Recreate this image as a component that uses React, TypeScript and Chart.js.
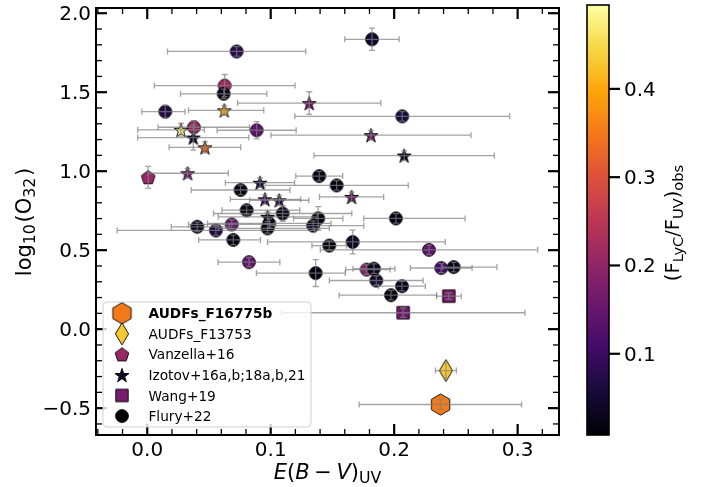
import React, { useEffect, useRef } from 'react';
import { Chart, registerables } from 'chart.js';

Chart.register(...registerables);

const W = 717;
const H = 487;

// ---------------- data ----------------
// Flury+22
const fluryEBV = [0.0724, 0.182, 0.0627, 0.0619, 0.0146, 0.0378, 0.0886, 0.2065, 0.0756, 0.1393, 0.1534, 0.0805, 0.1097, 0.1385, 0.2014, 0.1344, 0.0405, 0.0556, 0.0684, 0.0975, 0.0988, 0.0697, 0.1474, 0.1664, 0.2282, 0.0824, 0.1364, 0.1777, 0.1836, 0.2381, 0.2482, 0.1855, 0.2063, 0.1974];
const fluryO32 = [1.758, 1.835, 1.542, 1.49, 1.377, 1.278, 1.259, 1.347, 0.881, 0.969, 0.91, 0.753, 0.732, 0.701, 0.701, 0.655, 0.648, 0.625, 0.663, 0.638, 0.669, 0.565, 0.529, 0.552, 0.502, 0.424, 0.355, 0.377, 0.383, 0.387, 0.393, 0.308, 0.272, 0.215];
const fluryXErrLo = [0.056, 0.022, 0.057, 0.035, 0.019, 0.029, 0.032, 0.087, 0.04, 0.019, 0.058, 0.02, 0.056, 0.02, 0.026, 0.035, 0.021, 0.08, 0.035, 0.04, 0.05, 0.028, 0.014, 0.069, 0.088, 0.025, 0.048, 0.017, 0.017, 0.025, 0.009, 0.038, 0.019, 0.042];
const fluryXErrHi = [0.056, 0.022, 0.057, 0.035, 0.016, 0.045, 0.032, 0.087, 0.04, 0.019, 0.058, 0.043, 0.056, 0.02, 0.056, 0.041, 0.026, 0.08, 0.035, 0.05, 0.05, 0.022, 0.014, 0.075, 0.088, 0.025, 0.024, 0.019, 0.017, 0.025, 0.035, 0.038, 0.019, 0.037];
const fluryYErr = [0.03, 0.07, 0.07, 0.03, 0.04, 0.04, 0.055, 0.03, 0.03, 0.03, 0.03, 0.03, 0.05, 0.075, 0.03, 0.03, 0.03, 0.03, 0.03, 0.03, 0.03, 0.03, 0.03, 0.075, 0.03, 0.03, 0.085, 0.03, 0.03, 0.03, 0.03, 0.03, 0.03, 0.03];
const fluryFesc = [0.08, 0.05, 0.22, 0.03, 0.07, 0.21, 0.14, 0.06, 0.02, 0.02, 0.02, 0.02, 0.02, 0.02, 0.02, 0.03, 0.03, 0.07, 0.15, 0.03, 0.03, 0.02, 0.02, 0.04, 0.14, 0.15, 0.02, 0.19, 0.03, 0.11, 0.03, 0.05, 0.03, 0.02];

// Izotov+16a,b;18a,b,21
const izoEBV = [0.1312, 0.0624, 0.0273, 0.0373, 0.0467, 0.1812, 0.2081, 0.0327, 0.0913, 0.0953, 0.1069, 0.1655, 0.0975];
const izoO32 = [1.431, 1.385, 1.262, 1.213, 1.151, 1.228, 1.099, 0.987, 0.927, 0.822, 0.816, 0.837, 0.711];
const izoXErrLo = [0.058, 0.029, 0.035, 0.045, 0.029, 0.081, 0.073, 0.032, 0.028, 0.028, 0.024, 0.026, 0.04];
const izoXErrHi = [0.058, 0.032, 0.019, 0.045, 0.029, 0.081, 0.073, 0.033, 0.028, 0.029, 0.024, 0.026, 0.04];
const izoYErr = [0.072, 0.03, 0.04, 0.08, 0.035, 0.03, 0.03, 0.03, 0.03, 0.03, 0.03, 0.03, 0.03];
const izoFesc = [0.17, 0.41, 0.48, 0.05, 0.33, 0.16, 0.03, 0.17, 0.07, 0.1, 0.08, 0.15, 0.04];

// Vanzella+16
const vanEBV = [0.0008];
const vanO32 = [0.962];
const vanXErrLo = [0];
const vanXErrHi = [0];
const vanYErr = [0.069];
const vanFesc = [0.21];

// Wang+19
const wangEBV = [0.2443, 0.2073];
const wangO32 = [0.209, 0.104];
const wangXErrLo = [0.01, 0.0985];
const wangXErrHi = [0.01, 0.0986];
const wangYErr = [0.02, 0.03];
const wangFesc = [0.17, 0.16];

// AUDFs_F13753
const f13753EBV = [0.2419];
const f13753O32 = [-0.262];
const f13753XErr = [0.0085];
const f13753YErr = [0.05];
const f13753Fesc = [0.432];

// AUDFs_F16775b
const f16775EBV = [0.2376];
const f16775O32 = [-0.477];
const f16775XErrLo = [0.066];
const f16775XErrHi = [0.0656];
const f16775YErr = [0.03];
const f16775Fesc = [0.35];

const legendLabels = ['AUDFs_F16775b', 'AUDFs_F13753', 'Vanzella+16', 'Izotov+16a,b;18a,b,21', 'Wang+19', 'Flury+22'];
const legendShapes = ['hexagon', 'thinDiamond', 'pentagon', 'star', 'square', 'circle'];
const legendFesc = [0.35, 0.432, 0.21, 0.04, 0.17, 0.008];

const xMajorTicks = [0, 0.1, 0.2, 0.3];
const yMajorTicks = [-0.5, 0, 0.5, 1, 1.5, 2];
const cbTicks = [0.1, 0.2, 0.3, 0.4];

const X_MIN = -0.0415;
const X_MAX = 0.3335;
const Y_MIN = -0.67;
const Y_MAX = 2.033;
const CB_MIN = 0.008;
const CB_MAX = 0.495;

// ---------------- colormap ----------------
const INFERNO = ['#000004', '#160b39', '#420a68', '#6a176e', '#932667', '#bc3754', '#dd513a', '#f37819', '#fca50a', '#f6d746', '#fcffa4'];
function hexToRgb(h: string) {
  return [parseInt(h.slice(1, 3), 16), parseInt(h.slice(3, 5), 16), parseInt(h.slice(5, 7), 16)];
}
function infernoAt(t: number) {
  t = Math.max(0, Math.min(1, t));
  const p = t * (INFERNO.length - 1);
  const i = Math.min(INFERNO.length - 2, Math.floor(p));
  const f = p - i;
  const a = hexToRgb(INFERNO[i]);
  const b = hexToRgb(INFERNO[i + 1]);
  const c = a.map((v, k) => Math.round(v + (b[k] - v) * f));
  return `rgb(${c[0]},${c[1]},${c[2]})`;
}
function colorFor(v: number) {
  return infernoAt((v - CB_MIN) / (CB_MAX - CB_MIN));
}

// ---------------- markers ----------------
function makeMarker(shape: string, fill: string): HTMLCanvasElement {
  const ext: Record<string, number> = { circle: 7, star: 8, pentagon: 8, square: 7, hexagon: 11.5, thinDiamond: 12 };
  const e = ext[shape] || 8;
  const s = Math.ceil(e * 2 + 4);
  const c = document.createElement('canvas');
  c.width = s;
  c.height = s;
  const g = c.getContext('2d')!;
  g.translate(s / 2, s / 2);
  g.beginPath();
  if (shape === 'circle') {
    g.arc(0, 0, 6.4, 0, Math.PI * 2);
  } else if (shape === 'star') {
    const R = 7.4, r = R * 0.382;
    for (let k = 0; k < 10; k++) {
      const rad = k % 2 === 0 ? R : r;
      const a = -Math.PI / 2 + (k * Math.PI) / 5;
      const px = rad * Math.cos(a), py = rad * Math.sin(a) + 0.8;
      if (k === 0) g.moveTo(px, py); else g.lineTo(px, py);
    }
    g.closePath();
  } else if (shape === 'pentagon') {
    const R = 7.2;
    for (let k = 0; k < 5; k++) {
      const a = -Math.PI / 2 + (k * 2 * Math.PI) / 5;
      const px = R * Math.cos(a), py = R * Math.sin(a) + 0.6;
      if (k === 0) g.moveTo(px, py); else g.lineTo(px, py);
    }
    g.closePath();
  } else if (shape === 'square') {
    g.rect(-6.2, -6.2, 12.4, 12.4);
  } else if (shape === 'hexagon') {
    const R = 10.6;
    for (let k = 0; k < 6; k++) {
      const a = -Math.PI / 2 + (k * Math.PI) / 3;
      const px = R * Math.cos(a), py = R * Math.sin(a);
      if (k === 0) g.moveTo(px, py); else g.lineTo(px, py);
    }
    g.closePath();
  } else if (shape === 'thinDiamond') {
    g.moveTo(0, -11);
    g.lineTo(6.6, 0);
    g.lineTo(0, 11);
    g.lineTo(-6.6, 0);
    g.closePath();
  }
  g.fillStyle = fill;
  g.fill();
  g.lineWidth = 0.9;
  g.strokeStyle = '#000';
  g.stroke();
  return c;
}

// ---------------- rich text ----------------
type Seg = { t: string; sub?: boolean; it?: boolean; padL?: number; padR?: number };
const FONT = '"DejaVu Sans", sans-serif';
const SUB_SCALE = 0.75;
function segFont(s: Seg, size: number) {
  const sz = s.sub ? size * SUB_SCALE : size;
  return `${s.it ? 'italic ' : ''}${sz}px ${FONT}`;
}
function richWidth(ctx: CanvasRenderingContext2D, segs: Seg[], size: number) {
  let w = 0;
  for (const s of segs) {
    ctx.font = segFont(s, size);
    w += ctx.measureText(s.t).width + ((s.padL || 0) + (s.padR || 0)) * size;
  }
  return w;
}
function drawRich(ctx: CanvasRenderingContext2D, segs: Seg[], cx: number, baseY: number, size: number) {
  const w = richWidth(ctx, segs, size);
  let x = cx - w / 2;
  ctx.textAlign = 'left';
  ctx.textBaseline = 'alphabetic';
  for (const s of segs) {
    ctx.font = segFont(s, size);
    x += (s.padL || 0) * size;
    ctx.fillText(s.t, x, baseY + (s.sub ? size * 0.2 : 0));
    x += ctx.measureText(s.t).width + (s.padR || 0) * size;
  }
}
function fmt(v: number) {
  const s = v.toFixed(1);
  return v < 0 ? '\u2212' + s.slice(1) : s;
}

// ---------------- plugins ----------------
const errorBarPlugin = {
  id: 'errorBars',
  afterDatasetsDraw(chart: any) {
    const { ctx, chartArea, scales } = chart;
    const xs = scales.x, ys = scales.y;
    ctx.save();
    ctx.beginPath();
    ctx.rect(chartArea.left, chartArea.top, chartArea.right - chartArea.left, chartArea.bottom - chartArea.top);
    ctx.clip();
    ctx.strokeStyle = 'rgba(128,128,128,0.72)';
    ctx.lineWidth = 1.3;
    const cap = 3;
    chart.data.datasets.forEach((ds: any) => {
      const e = ds.err;
      ds.data.forEach((p: any, i: number) => {
        const px = xs.getPixelForValue(p.x);
        const py = ys.getPixelForValue(p.y);
        ctx.beginPath();
        if (e.xlo[i] > 0 || e.xhi[i] > 0) {
          const x0 = xs.getPixelForValue(p.x - e.xlo[i]);
          const x1 = xs.getPixelForValue(p.x + e.xhi[i]);
          ctx.moveTo(x0, py); ctx.lineTo(x1, py);
          ctx.moveTo(x0, py - cap); ctx.lineTo(x0, py + cap);
          ctx.moveTo(x1, py - cap); ctx.lineTo(x1, py + cap);
        }
        if (e.y[i] > 0) {
          const y0 = ys.getPixelForValue(p.y - e.y[i]);
          const y1 = ys.getPixelForValue(p.y + e.y[i]);
          ctx.moveTo(px, y0); ctx.lineTo(px, y1);
          ctx.moveTo(px - cap, y0); ctx.lineTo(px + cap, y0);
          ctx.moveTo(px - cap, y1); ctx.lineTo(px + cap, y1);
        }
        ctx.stroke();
      });
    });
    ctx.restore();
  },
};

const decorPlugin = {
  id: 'decor',
  afterDraw(chart: any) {
    const { ctx, chartArea, scales } = chart;
    const xs = scales.x, ys = scales.y;
    const { left, right, top, bottom } = chartArea;
    ctx.save();
    ctx.fillStyle = '#000';
    ctx.strokeStyle = '#000';

    const tick = (x0: number, y0: number, x1: number, y1: number, lw: number) => {
      ctx.lineWidth = lw;
      ctx.beginPath();
      ctx.moveTo(x0, y0);
      ctx.lineTo(x1, y1);
      ctx.stroke();
    };
    const MAJ = 11, MIN = 6;
    for (let k = Math.ceil(X_MIN / 0.02); k * 0.02 <= X_MAX; k++) {
      const v = k * 0.02;
      const isMaj = k % 5 === 0;
      const px = xs.getPixelForValue(v);
      const L = isMaj ? MAJ : MIN;
      const lw = isMaj ? 2.2 : 1.3;
      tick(px, bottom, px, bottom - L, lw);
      tick(px, top, px, top + L, lw);
    }
    for (let k = Math.ceil(Y_MIN / 0.1); k * 0.1 <= Y_MAX + 1e-9; k++) {
      const v = k * 0.1;
      const isMaj = k % 5 === 0;
      const py = ys.getPixelForValue(v);
      const L = isMaj ? MAJ : MIN;
      const lw = isMaj ? 2.2 : 1.3;
      tick(left, py, left + L, py, lw);
      tick(right, py, right - L, py, lw);
    }

    ctx.lineWidth = 2;
    ctx.strokeRect(left, top, right - left, bottom - top);

    ctx.font = `20px ${FONT}`;
    ctx.textAlign = 'center';
    ctx.textBaseline = 'alphabetic';
    xMajorTicks.forEach((v) => ctx.fillText(fmt(v), xs.getPixelForValue(v), 456));
    ctx.textAlign = 'right';
    yMajorTicks.forEach((v) => ctx.fillText(fmt(v), 91, ys.getPixelForValue(v) + 7));

    drawRich(ctx, [
      { t: 'E', it: true }, { t: '(' }, { t: 'B', it: true }, { t: '\u2212', padL: 0.22, padR: 0.22 }, { t: 'V', it: true }, { t: ')' }, { t: 'UV', sub: true },
    ], (left + right) / 2, 479, 21);
    ctx.save();
    ctx.translate(31, 222);
    ctx.rotate(-Math.PI / 2);
    drawRich(ctx, [{ t: 'log' }, { t: '10', sub: true, padR: 0.08 }, { t: '(O' }, { t: '32', sub: true, padR: 0.08 }, { t: ')' }], 0, 0, 21);
    ctx.restore();

    // colorbar
    const cbL = 587, cbR = 609, cbT = 5, cbB = 435;
    const cbPix = (v: number) => cbB - ((v - CB_MIN) / (CB_MAX - CB_MIN)) * (cbB - cbT);
    const grad = ctx.createLinearGradient(0, cbB, 0, cbT);
    for (let k = 0; k <= 40; k++) grad.addColorStop(k / 40, infernoAt(k / 40));
    ctx.fillStyle = grad;
    ctx.fillRect(cbL, cbT, cbR - cbL, cbB - cbT);
    ctx.lineWidth = 1.6;
    ctx.strokeStyle = '#000';
    ctx.strokeRect(cbL, cbT, cbR - cbL, cbB - cbT);
    ctx.fillStyle = '#000';
    cbTicks.forEach((v) => {
      const py = cbPix(v);
      tick(cbR, py, cbR + 11, py, 2.2);
      ctx.font = `20px ${FONT}`;
      ctx.textAlign = 'left';
      ctx.fillText(fmt(v), 624, py + 7);
    });
    ctx.save();
    ctx.translate(679, 223);
    ctx.rotate(-Math.PI / 2);
    drawRich(ctx, [{ t: '(F' }, { t: 'LyC', sub: true }, { t: '/F' }, { t: 'UV', sub: true }, { t: ')' }, { t: 'obs', sub: true }], 0, 0, 19.5);
    ctx.restore();

    // legend
    const lgL = 103, lgT = 302, lgW = 208, lgH = 125, r = 4;
    ctx.beginPath();
    ctx.moveTo(lgL + r, lgT);
    ctx.lineTo(lgL + lgW - r, lgT);
    ctx.quadraticCurveTo(lgL + lgW, lgT, lgL + lgW, lgT + r);
    ctx.lineTo(lgL + lgW, lgT + lgH - r);
    ctx.quadraticCurveTo(lgL + lgW, lgT + lgH, lgL + lgW - r, lgT + lgH);
    ctx.lineTo(lgL + r, lgT + lgH);
    ctx.quadraticCurveTo(lgL, lgT + lgH, lgL, lgT + lgH - r);
    ctx.lineTo(lgL, lgT + r);
    ctx.quadraticCurveTo(lgL, lgT, lgL + r, lgT);
    ctx.closePath();
    ctx.fillStyle = 'rgba(255,255,255,0.8)';
    ctx.fill();
    ctx.lineWidth = 1;
    ctx.strokeStyle = '#d0d0d0';
    ctx.stroke();
    legendLabels.forEach((lab, i) => {
      const cy = 313.3 + i * 20.55;
      const img = makeMarker(legendShapes[i], colorFor(legendFesc[i]));
      ctx.drawImage(img, 122 - img.width / 2, cy - img.height / 2);
      ctx.fillStyle = '#000';
      ctx.font = `${i === 0 ? 'bold ' : ''}13.7px ${FONT}`;
      ctx.textAlign = 'left';
      ctx.fillText(lab, 148.5, cy + 5);
    });

    ctx.restore();
  },
};

// ---------------- datasets ----------------
function build(label: string, shape: string, xsArr: number[], ysArr: number[], xlo: number[], xhi: number[], ye: number[], fesc: number[]) {
  return {
    label,
    data: xsArr.map((x, i) => ({ x, y: ysArr[i] })),
    pointStyle: fesc.map((f) => makeMarker(shape, colorFor(f))),
    pointRadius: 7,
    err: { xlo, xhi, y: ye },
  };
}

export default function App() {
  const ref = useRef<HTMLCanvasElement>(null);
  useEffect(() => {
    document.body.style.margin = '0';
    const datasets: any[] = [
      build('AUDFs_F16775b', 'hexagon', f16775EBV, f16775O32, f16775XErrLo, f16775XErrHi, f16775YErr, f16775Fesc),
      build('AUDFs_F13753', 'thinDiamond', f13753EBV, f13753O32, f13753XErr, f13753XErr, f13753YErr, f13753Fesc),
      build('Vanzella+16', 'pentagon', vanEBV, vanO32, vanXErrLo, vanXErrHi, vanYErr, vanFesc),
      build('Izotov+16a,b;18a,b,21', 'star', izoEBV, izoO32, izoXErrLo, izoXErrHi, izoYErr, izoFesc),
      build('Wang+19', 'square', wangEBV, wangO32, wangXErrLo, wangXErrHi, wangYErr, wangFesc),
      build('Flury+22', 'circle', fluryEBV, fluryO32, fluryXErrLo, fluryXErrHi, fluryYErr, fluryFesc),
    ];
    const chart = new Chart(ref.current!, {
      type: 'scatter',
      data: { datasets },
      options: {
        responsive: false,
        animation: false,
        devicePixelRatio: 1,
        events: [],
        layout: { padding: { left: 96, right: W - 559, top: 4, bottom: H - 435 } },
        scales: {
          x: { type: 'linear', min: X_MIN, max: X_MAX, display: false },
          y: { type: 'linear', min: Y_MIN, max: Y_MAX, display: false },
        },
        plugins: { legend: { display: false }, tooltip: { enabled: false } },
      },
      plugins: [errorBarPlugin, decorPlugin],
    } as any);
    return () => chart.destroy();
  }, []);
  return (
    <div style={{ width: W, height: H }}>
      <canvas ref={ref} width={W} height={H} style={{ display: 'block', width: W, height: H }} />
    </div>
  );
}
